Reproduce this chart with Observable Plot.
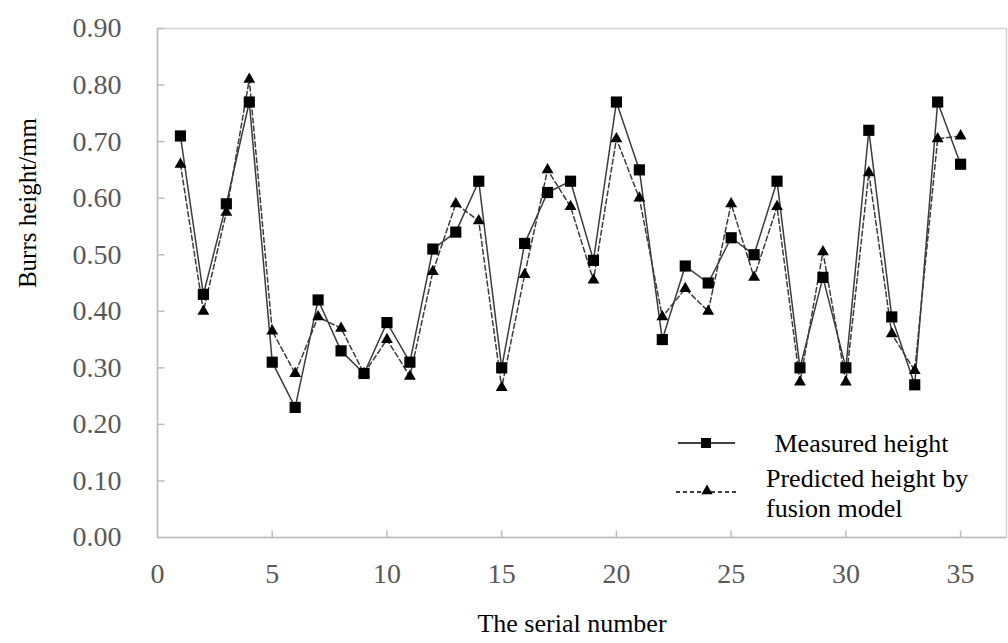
<!DOCTYPE html>
<html>
<head>
<meta charset="utf-8">
<script src="https://cdn.jsdelivr.net/npm/d3@7"></script>
<script src="https://cdn.jsdelivr.net/npm/@observablehq/plot@0.6"></script>
<style>
  html, body { margin: 0; padding: 0; background: #fff; }
  #wrap { position: relative; width: 1008px; height: 643px; overflow: hidden; }
  #legend { position: absolute; left: 0; top: 0; pointer-events: none; }
  text { font-family: "Liberation Serif", "Times New Roman", serif; }
</style>
</head>
<body>
<div id="wrap"></div>
<script>
const serial = d3.range(1, 36);
const measured = [0.71, 0.43, 0.59, 0.77, 0.31, 0.23, 0.42, 0.33, 0.29, 0.38,
                  0.31, 0.51, 0.54, 0.63, 0.30, 0.52, 0.61, 0.63, 0.49, 0.77,
                  0.65, 0.35, 0.48, 0.45, 0.53, 0.50, 0.63, 0.30, 0.46, 0.30,
                  0.72, 0.39, 0.27, 0.77, 0.66];
const predicted = [0.66, 0.40, 0.575, 0.81, 0.365, 0.29, 0.39, 0.37, 0.29, 0.35,
                   0.285, 0.47, 0.59, 0.56, 0.265, 0.465, 0.65, 0.585, 0.455, 0.705,
                   0.60, 0.39, 0.44, 0.40, 0.59, 0.46, 0.585, 0.275, 0.505, 0.275,
                   0.645, 0.36, 0.295, 0.705, 0.71];
const xTicks = [0, 5, 10, 15, 20, 25, 30, 35];
const yTicks = [0, 0.1, 0.2, 0.3, 0.4, 0.5, 0.6, 0.7, 0.8, 0.9];
const seriesNames = [" Measured height", "Predicted height by", "fusion model"];
const xTitle = "The serial number";
const yTitle = "Burrs height/mm";

const mData = serial.map((s, i) => ({s, v: measured[i]}));
const pData = serial.map((s, i) => ({s, v: predicted[i]}));

const lineColor = "#3c3c3c";
const axisGray = "#bdbdbd";
const font = '"Liberation Serif", "Times New Roman", serif';

// inward tick glyphs
const tickUp = {draw(ctx) { ctx.moveTo(0, 0); ctx.lineTo(0, -7); }};
const tickRight = {draw(ctx) { ctx.moveTo(0, 0); ctx.lineTo(7, 0); }};

const chart = Plot.plot({
  width: 1008,
  height: 643,
  marginLeft: 157,
  marginRight: 2,
  marginTop: 28,
  marginBottom: 106,
  style: {fontFamily: font, background: "#fff", overflow: "visible"},
  x: {domain: [0, 37], ticks: xTicks, tickFormat: d => String(d), label: null},
  y: {domain: [0, 0.9], ticks: yTicks, tickFormat: d3.format(".2f"), label: null},
  marks: [
    Plot.frame({stroke: "#d4d4d4", strokeWidth: 1.5}),
    Plot.ruleX([0], {stroke: axisGray, strokeWidth: 1.5}),
    Plot.ruleY([0], {stroke: axisGray, strokeWidth: 1.5}),
    Plot.dot(xTicks.slice(1), {x: d => d, y: 0, symbol: tickUp, r: 1, fill: "none", stroke: axisGray, strokeWidth: 1.5}),
    Plot.dot(yTicks.slice(1), {x: 0, y: d => d, symbol: tickRight, r: 1, fill: "none", stroke: axisGray, strokeWidth: 1.5}),
    Plot.axisX({ticks: xTicks, tickSize: 0, tickPadding: 26, fontSize: 28, color: "#595959", tickFormat: d => String(d), label: null}),
    Plot.axisY({ticks: yTicks, tickSize: 0, tickPadding: 36, fontSize: 28, color: "#595959", tickFormat: d3.format(".2f"), label: null}),
    Plot.line(pData, {x: "s", y: "v", stroke: lineColor, strokeWidth: 1.5, strokeDasharray: "5,3"}),
    Plot.line(mData, {x: "s", y: "v", stroke: lineColor, strokeWidth: 1.5}),
    Plot.dot(pData, {x: "s", y: "v", symbol: "triangle", r: 4.4, fill: "#000", stroke: "none"}),
    Plot.dot(mData, {x: "s", y: "v", symbol: "square", r: 6.3, fill: "#000", stroke: "none"}),
    Plot.text([xTitle], {frameAnchor: "bottom", lineAnchor: "middle", dy: 86, dx: -10, fontSize: 26, fill: "#000"}),
    Plot.text([yTitle], {frameAnchor: "left", textAnchor: "middle", lineAnchor: "middle", rotate: -90, dx: -130, dy: -80, fontSize: 25, fill: "#000"})
  ]
});
document.getElementById("wrap").appendChild(chart);

// Legend overlay
const lg = d3.select("#wrap").append("svg")
  .attr("id", "legend").attr("width", 1008).attr("height", 643);
const sq = d3.symbol(d3.symbolSquare, 100);
const tri = d3.symbol(d3.symbolTriangle, 55);
// measured
lg.append("line").attr("x1", 678).attr("x2", 735).attr("y1", 443).attr("y2", 443)
  .attr("stroke", "#000").attr("stroke-width", 1.3);
lg.append("path").attr("d", sq()).attr("transform", "translate(706,443)").attr("fill", "#000");
lg.append("text").attr("x", 768).attr("y", 452).attr("font-size", 26).attr("fill", "#000")
  .style("white-space", "pre").text(seriesNames[0]);
// predicted
lg.append("line").attr("x1", 676).attr("x2", 737).attr("y1", 492).attr("y2", 492)
  .attr("stroke", "#000").attr("stroke-width", 1.3).attr("stroke-dasharray", "4,3");
lg.append("path").attr("d", tri()).attr("transform", "translate(707,491)").attr("fill", "#000");
lg.append("text").attr("x", 766).attr("y", 487).attr("font-size", 26).attr("fill", "#000").text(seriesNames[1]);
lg.append("text").attr("x", 766).attr("y", 517).attr("font-size", 26).attr("fill", "#000").text(seriesNames[2]);
</script>
</body>
</html>
